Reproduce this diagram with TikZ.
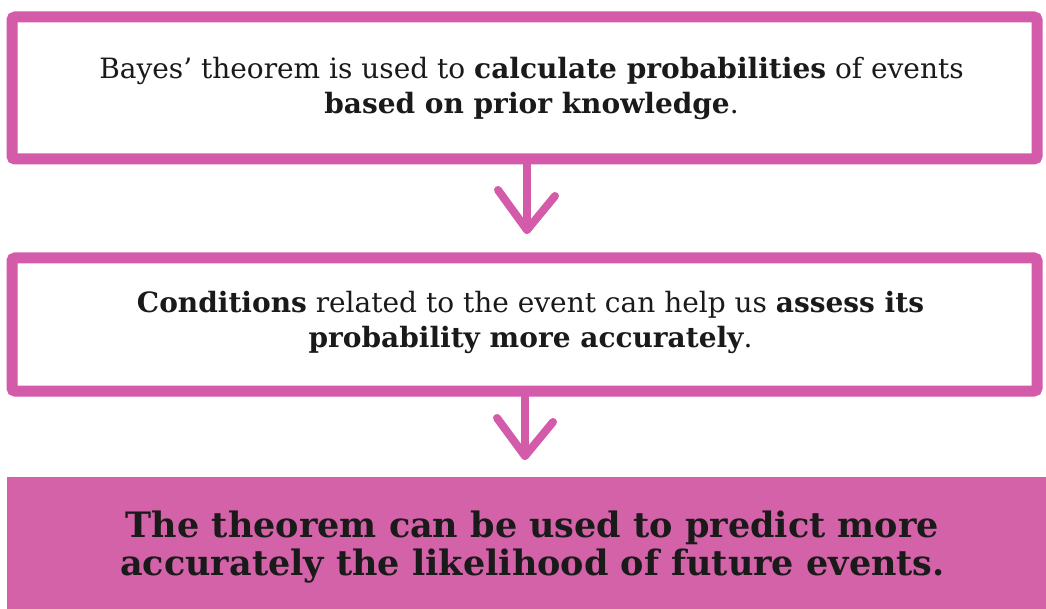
\documentclass[tikz,border=0pt]{standalone}
\usepackage{fontspec}
\setmainfont{DejaVu Serif}
\usetikzlibrary{calc}
\definecolor{pinkline}{HTML}{D45BAA}
\definecolor{pinkfill}{HTML}{D462A8}
\definecolor{inktext}{HTML}{1A1A1A}
\tikzset{
  stepbox/.style={draw=pinkline, line width=11pt, rounded corners=3pt,
    minimum width=1025pt, inner sep=0pt},
  steptext/.style={inner sep=0pt, align=center, text=inktext,
    font=\fontsize{28}{35}\selectfont},
  finalbox/.style={fill=pinkfill, minimum width=1039pt, minimum height=132pt,
    inner sep=0pt},
  finaltext/.style={inner sep=0pt, align=center, text=inktext,
    font=\fontsize{35}{38}\selectfont\bfseries},
  flowarrow/.style={draw=pinkline, line width=8pt, line cap=round, line join=round}
}
\begin{document}
\begin{tikzpicture}[x=1pt,y=-1pt]
\useasboundingbox (0,0) rectangle (1046,609);
\fill[white] (0,0) rectangle (1046,609);
\node[stepbox, minimum height=142pt] (b1) at (524.5,88) {};
\node[steptext] (b1t) at ($(b1.center)+(7,0)$)
  {Bayes' theorem is used to \textbf{calculate probabilities} of events\\
   \textbf{based on prior knowledge}.};
\node[stepbox, minimum height=133pt] (b2) at (524.5,324.5) {};
\node[steptext] (b2t) at ($(b2.center)+(6,-2)$)
  {\textbf{Conditions} related to the event can help us \textbf{assess its}\\
   \textbf{probability more accurately}.};
\node[finalbox] (b3) at (526.5,543) {};
\node[finaltext] (b3t) at ($(b3.center)+(6,4)$)
  {The theorem can be used to predict more\\
   accurately the likelihood of future events.};
\coordinate (t1) at (527,230);
\coordinate (t2) at (525,456);
\draw[flowarrow] (b1.south -| t1) -- (t1);
\draw[flowarrow] ($(t1)+(-29,-40)$) -- (t1) -- ($(t1)+(28,-34)$);
\draw[flowarrow] (b2.south -| t2) -- (t2);
\draw[flowarrow] ($(t2)+(-28,-38)$) -- (t2) -- ($(t2)+(28,-34)$);
\end{tikzpicture}
\end{document}
